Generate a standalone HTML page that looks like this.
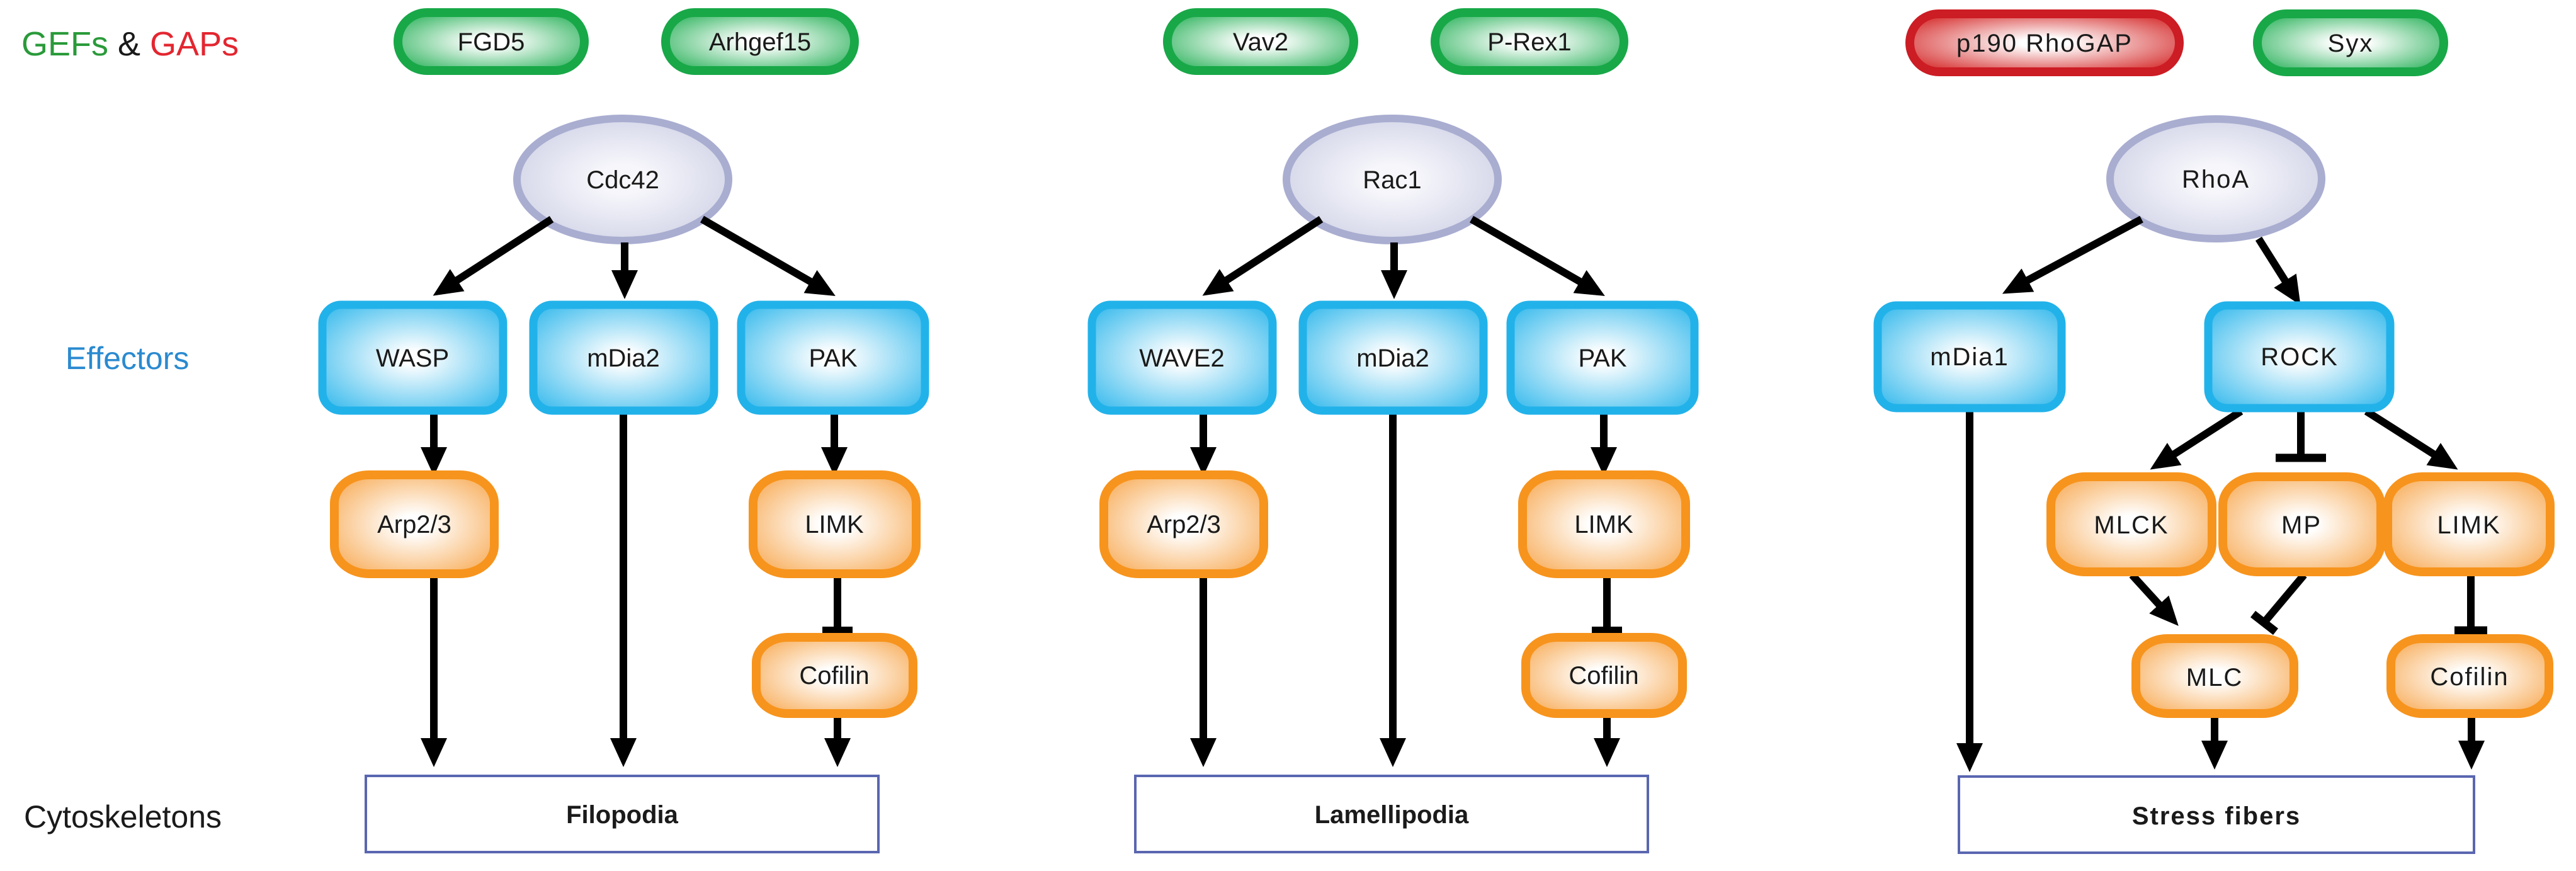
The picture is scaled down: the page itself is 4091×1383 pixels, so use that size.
<!DOCTYPE html>
<html><head><meta charset="utf-8"><style>
html,body{margin:0;padding:0;background:#fff;}
svg{display:block;}
text{font-family:"Liberation Sans",Arial,sans-serif;fill:#1a1a1a;}
</style></head><body>
<svg width="4091" height="1383" viewBox="0 0 4091 1383" xmlns="http://www.w3.org/2000/svg">
<defs>
<radialGradient id="gG" cx="50%" cy="50%" r="60%"><stop offset="0.15" stop-color="#ffffff"/><stop offset="1" stop-color="#3cb868"/></radialGradient>
<radialGradient id="gR" cx="50%" cy="50%" r="60%"><stop offset="0.15" stop-color="#ffffff"/><stop offset="1" stop-color="#d83a3a"/></radialGradient>
<radialGradient id="gB" cx="50%" cy="50%" r="62%"><stop offset="0.1" stop-color="#ffffff"/><stop offset="1" stop-color="#49c0ee"/></radialGradient>
<radialGradient id="gO" cx="50%" cy="50%" r="62%"><stop offset="0.15" stop-color="#ffffff"/><stop offset="1" stop-color="#f8b060"/></radialGradient>
<radialGradient id="gE" cx="50%" cy="50%" r="60%"><stop offset="0.2" stop-color="#f6f6fb"/><stop offset="1" stop-color="#cfd2e6"/></radialGradient>
<marker id="ah" markerUnits="userSpaceOnUse" markerWidth="46" markerHeight="42" refX="30" refY="21" orient="auto">
<path d="M0,0 L46,21 L0,42 z" fill="#000"/></marker>
</defs>

<!-- row labels -->
<text x="34" y="88" font-size="54"><tspan fill="#2a9a3a">GEFs</tspan><tspan fill="#1a1a1a"> &amp; </tspan><tspan fill="#e32630">GAPs</tspan></text>
<text x="104" y="586" font-size="50" fill="#2a8ad0" style="fill:#2a8ad0">Effectors</text>
<text x="38" y="1314" font-size="50">Cytoskeletons</text>

<!-- LEFT PANEL -->
<g id="left">
<rect x="632" y="20" width="296" height="92" rx="46" fill="url(#gG)" stroke="#18a848" stroke-width="14"/>
<rect x="1057" y="20" width="300" height="92" rx="46" fill="url(#gG)" stroke="#18a848" stroke-width="14"/>
<ellipse cx="989" cy="285" rx="168" ry="97" fill="url(#gE)" stroke="#a9add0" stroke-width="12"/>
<g stroke="#000" stroke-width="12" fill="none">
<line x1="876" y1="348" x2="701" y2="461" marker-end="url(#ah)"/>
<line x1="992" y1="385" x2="992" y2="459" marker-end="url(#ah)"/>
<line x1="1115" y1="348" x2="1313" y2="462" marker-end="url(#ah)"/>
<line x1="689" y1="652" x2="689" y2="740" marker-end="url(#ah)"/>
<line x1="1325" y1="652" x2="1325" y2="740" marker-end="url(#ah)"/>
<line x1="689" y1="911" x2="689" y2="1202" marker-end="url(#ah)"/>
<line x1="990" y1="652" x2="990" y2="1202" marker-end="url(#ah)"/>
<line x1="1330" y1="911" x2="1330" y2="1001"/>
<line x1="1330" y1="1133" x2="1330" y2="1202" marker-end="url(#ah)"/>
</g>
<rect x="1306" y="995" width="48" height="13" fill="#000"/>
<rect x="512" y="484" width="287" height="168" rx="30" fill="url(#gB)" stroke="#22b2ea" stroke-width="13"/>
<rect x="847" y="484" width="287" height="168" rx="30" fill="url(#gB)" stroke="#22b2ea" stroke-width="13"/>
<rect x="1177" y="484" width="292" height="168" rx="30" fill="url(#gB)" stroke="#22b2ea" stroke-width="13"/>
<rect x="531" y="754" width="254" height="157" rx="55" ry="45" fill="url(#gO)" stroke="#f7941d" stroke-width="14"/>
<rect x="1196" y="754" width="259" height="157" rx="55" ry="45" fill="url(#gO)" stroke="#f7941d" stroke-width="14"/>
<rect x="1201" y="1012" width="249" height="121" rx="50" ry="40" fill="url(#gO)" stroke="#f7941d" stroke-width="14"/>
<rect x="581" y="1232" width="814" height="121" fill="#fff" stroke="#5a66b0" stroke-width="4"/>
<g font-size="40" text-anchor="middle">
<text x="989" y="299">Cdc42</text>
<text x="655" y="582">WASP</text>
<text x="990" y="582">mDia2</text>
<text x="1323" y="582">PAK</text>
<text x="658" y="846">Arp2/3</text>
<text x="1325" y="846">LIMK</text>
<text x="1325" y="1086">Cofilin</text>
<text x="988" y="1307" font-weight="bold">Filopodia</text>
</g>
</g>
<g font-size="40" text-anchor="middle">
<text x="780" y="80">FGD5</text>
<text x="1207" y="80">Arhgef15</text>
</g>

<!-- MIDDLE PANEL -->
<g transform="translate(1222,0)">
<rect x="632" y="20" width="296" height="92" rx="46" fill="url(#gG)" stroke="#18a848" stroke-width="14"/>
<rect x="1057" y="20" width="300" height="92" rx="46" fill="url(#gG)" stroke="#18a848" stroke-width="14"/>
<ellipse cx="989" cy="285" rx="168" ry="97" fill="url(#gE)" stroke="#a9add0" stroke-width="12"/>
<g stroke="#000" stroke-width="12" fill="none">
<line x1="876" y1="348" x2="701" y2="461" marker-end="url(#ah)"/>
<line x1="992" y1="385" x2="992" y2="459" marker-end="url(#ah)"/>
<line x1="1115" y1="348" x2="1313" y2="462" marker-end="url(#ah)"/>
<line x1="689" y1="652" x2="689" y2="740" marker-end="url(#ah)"/>
<line x1="1325" y1="652" x2="1325" y2="740" marker-end="url(#ah)"/>
<line x1="689" y1="911" x2="689" y2="1202" marker-end="url(#ah)"/>
<line x1="990" y1="652" x2="990" y2="1202" marker-end="url(#ah)"/>
<line x1="1330" y1="911" x2="1330" y2="1001"/>
<line x1="1330" y1="1133" x2="1330" y2="1202" marker-end="url(#ah)"/>
</g>
<rect x="1306" y="995" width="48" height="13" fill="#000"/>
<rect x="512" y="484" width="287" height="168" rx="30" fill="url(#gB)" stroke="#22b2ea" stroke-width="13"/>
<rect x="847" y="484" width="287" height="168" rx="30" fill="url(#gB)" stroke="#22b2ea" stroke-width="13"/>
<rect x="1177" y="484" width="292" height="168" rx="30" fill="url(#gB)" stroke="#22b2ea" stroke-width="13"/>
<rect x="531" y="754" width="254" height="157" rx="55" ry="45" fill="url(#gO)" stroke="#f7941d" stroke-width="14"/>
<rect x="1196" y="754" width="259" height="157" rx="55" ry="45" fill="url(#gO)" stroke="#f7941d" stroke-width="14"/>
<rect x="1201" y="1012" width="249" height="121" rx="50" ry="40" fill="url(#gO)" stroke="#f7941d" stroke-width="14"/>
<rect x="581" y="1232" width="814" height="121" fill="#fff" stroke="#5a66b0" stroke-width="4"/>
<g font-size="40" text-anchor="middle">
<text x="780" y="80">Vav2</text>
<text x="1207" y="80">P-Rex1</text>
<text x="989" y="299">Rac1</text>
<text x="655" y="582">WAVE2</text>
<text x="990" y="582">mDia2</text>
<text x="1323" y="582">PAK</text>
<text x="658" y="846">Arp2/3</text>
<text x="1325" y="846">LIMK</text>
<text x="1325" y="1086">Cofilin</text>
<text x="988" y="1307" font-weight="bold">Lamellipodia</text>
</g>
</g>

<!-- RIGHT PANEL -->
<rect x="3033" y="22" width="428" height="92" rx="46" fill="url(#gR)" stroke="#cc1c24" stroke-width="14"/>
<rect x="3585" y="22" width="296" height="92" rx="46" fill="url(#gG)" stroke="#18a848" stroke-width="14"/>
<ellipse cx="3519" cy="284" rx="168" ry="95" fill="url(#gE)" stroke="#a9add0" stroke-width="12"/>
<g stroke="#000" stroke-width="12" fill="none">
<line x1="3401" y1="348" x2="3194" y2="459" marker-end="url(#ah)"/>
<line x1="3587" y1="379" x2="3645" y2="471" marker-end="url(#ah)"/>
<line x1="3559" y1="653" x2="3428" y2="737" marker-end="url(#ah)"/>
<line x1="3758" y1="653" x2="3890" y2="737" marker-end="url(#ah)"/>
<line x1="3654" y1="653" x2="3654" y2="727"/>
<line x1="3386" y1="913" x2="3449" y2="982" marker-end="url(#ah)"/>
<line x1="3659" y1="913" x2="3596" y2="988"/>
<line x1="3128" y1="648" x2="3128" y2="1210" marker-end="url(#ah)"/>
<line x1="3517" y1="1133" x2="3517" y2="1206" marker-end="url(#ah)"/>
<line x1="3925" y1="1133" x2="3925" y2="1206" marker-end="url(#ah)"/>
<line x1="3924" y1="908" x2="3924" y2="1001"/>
</g>
<g stroke="#000" stroke-width="13">
<line x1="3614" y1="727" x2="3694" y2="727"/>
<line x1="3578" y1="975" x2="3614" y2="1003"/>
<line x1="3898" y1="1001" x2="3950" y2="1001"/>
</g>
<rect x="2982" y="485" width="292" height="163" rx="30" fill="url(#gB)" stroke="#22b2ea" stroke-width="13"/>
<rect x="3507" y="485" width="289" height="163" rx="30" fill="url(#gB)" stroke="#22b2ea" stroke-width="13"/>
<rect x="3257" y="757" width="256" height="151" rx="55" ry="45" fill="url(#gO)" stroke="#f7941d" stroke-width="14"/>
<rect x="3530" y="757" width="251" height="151" rx="55" ry="45" fill="url(#gO)" stroke="#f7941d" stroke-width="14"/>
<rect x="3792" y="757" width="258" height="151" rx="55" ry="45" fill="url(#gO)" stroke="#f7941d" stroke-width="14"/>
<rect x="3392" y="1014" width="251" height="119" rx="50" ry="40" fill="url(#gO)" stroke="#f7941d" stroke-width="14"/>
<rect x="3797" y="1014" width="251" height="119" rx="50" ry="40" fill="url(#gO)" stroke="#f7941d" stroke-width="14"/>
<rect x="3111" y="1233" width="818" height="121" fill="#fff" stroke="#5a66b0" stroke-width="4"/>
<g font-size="40" text-anchor="middle" letter-spacing="2">
<text x="3247" y="82">p190 RhoGAP</text>
<text x="3733" y="82">Syx</text>
<text x="3519" y="298">RhoA</text>
<text x="3128" y="580">mDia1</text>
<text x="3652" y="580">ROCK</text>
<text x="3385" y="847">MLCK</text>
<text x="3655" y="847">MP</text>
<text x="3921" y="847">LIMK</text>
<text x="3517" y="1089">MLC</text>
<text x="3922" y="1088">Cofilin</text>
<text x="3520" y="1309" font-weight="bold">Stress fibers</text>
</g>
</svg>
</body></html>
